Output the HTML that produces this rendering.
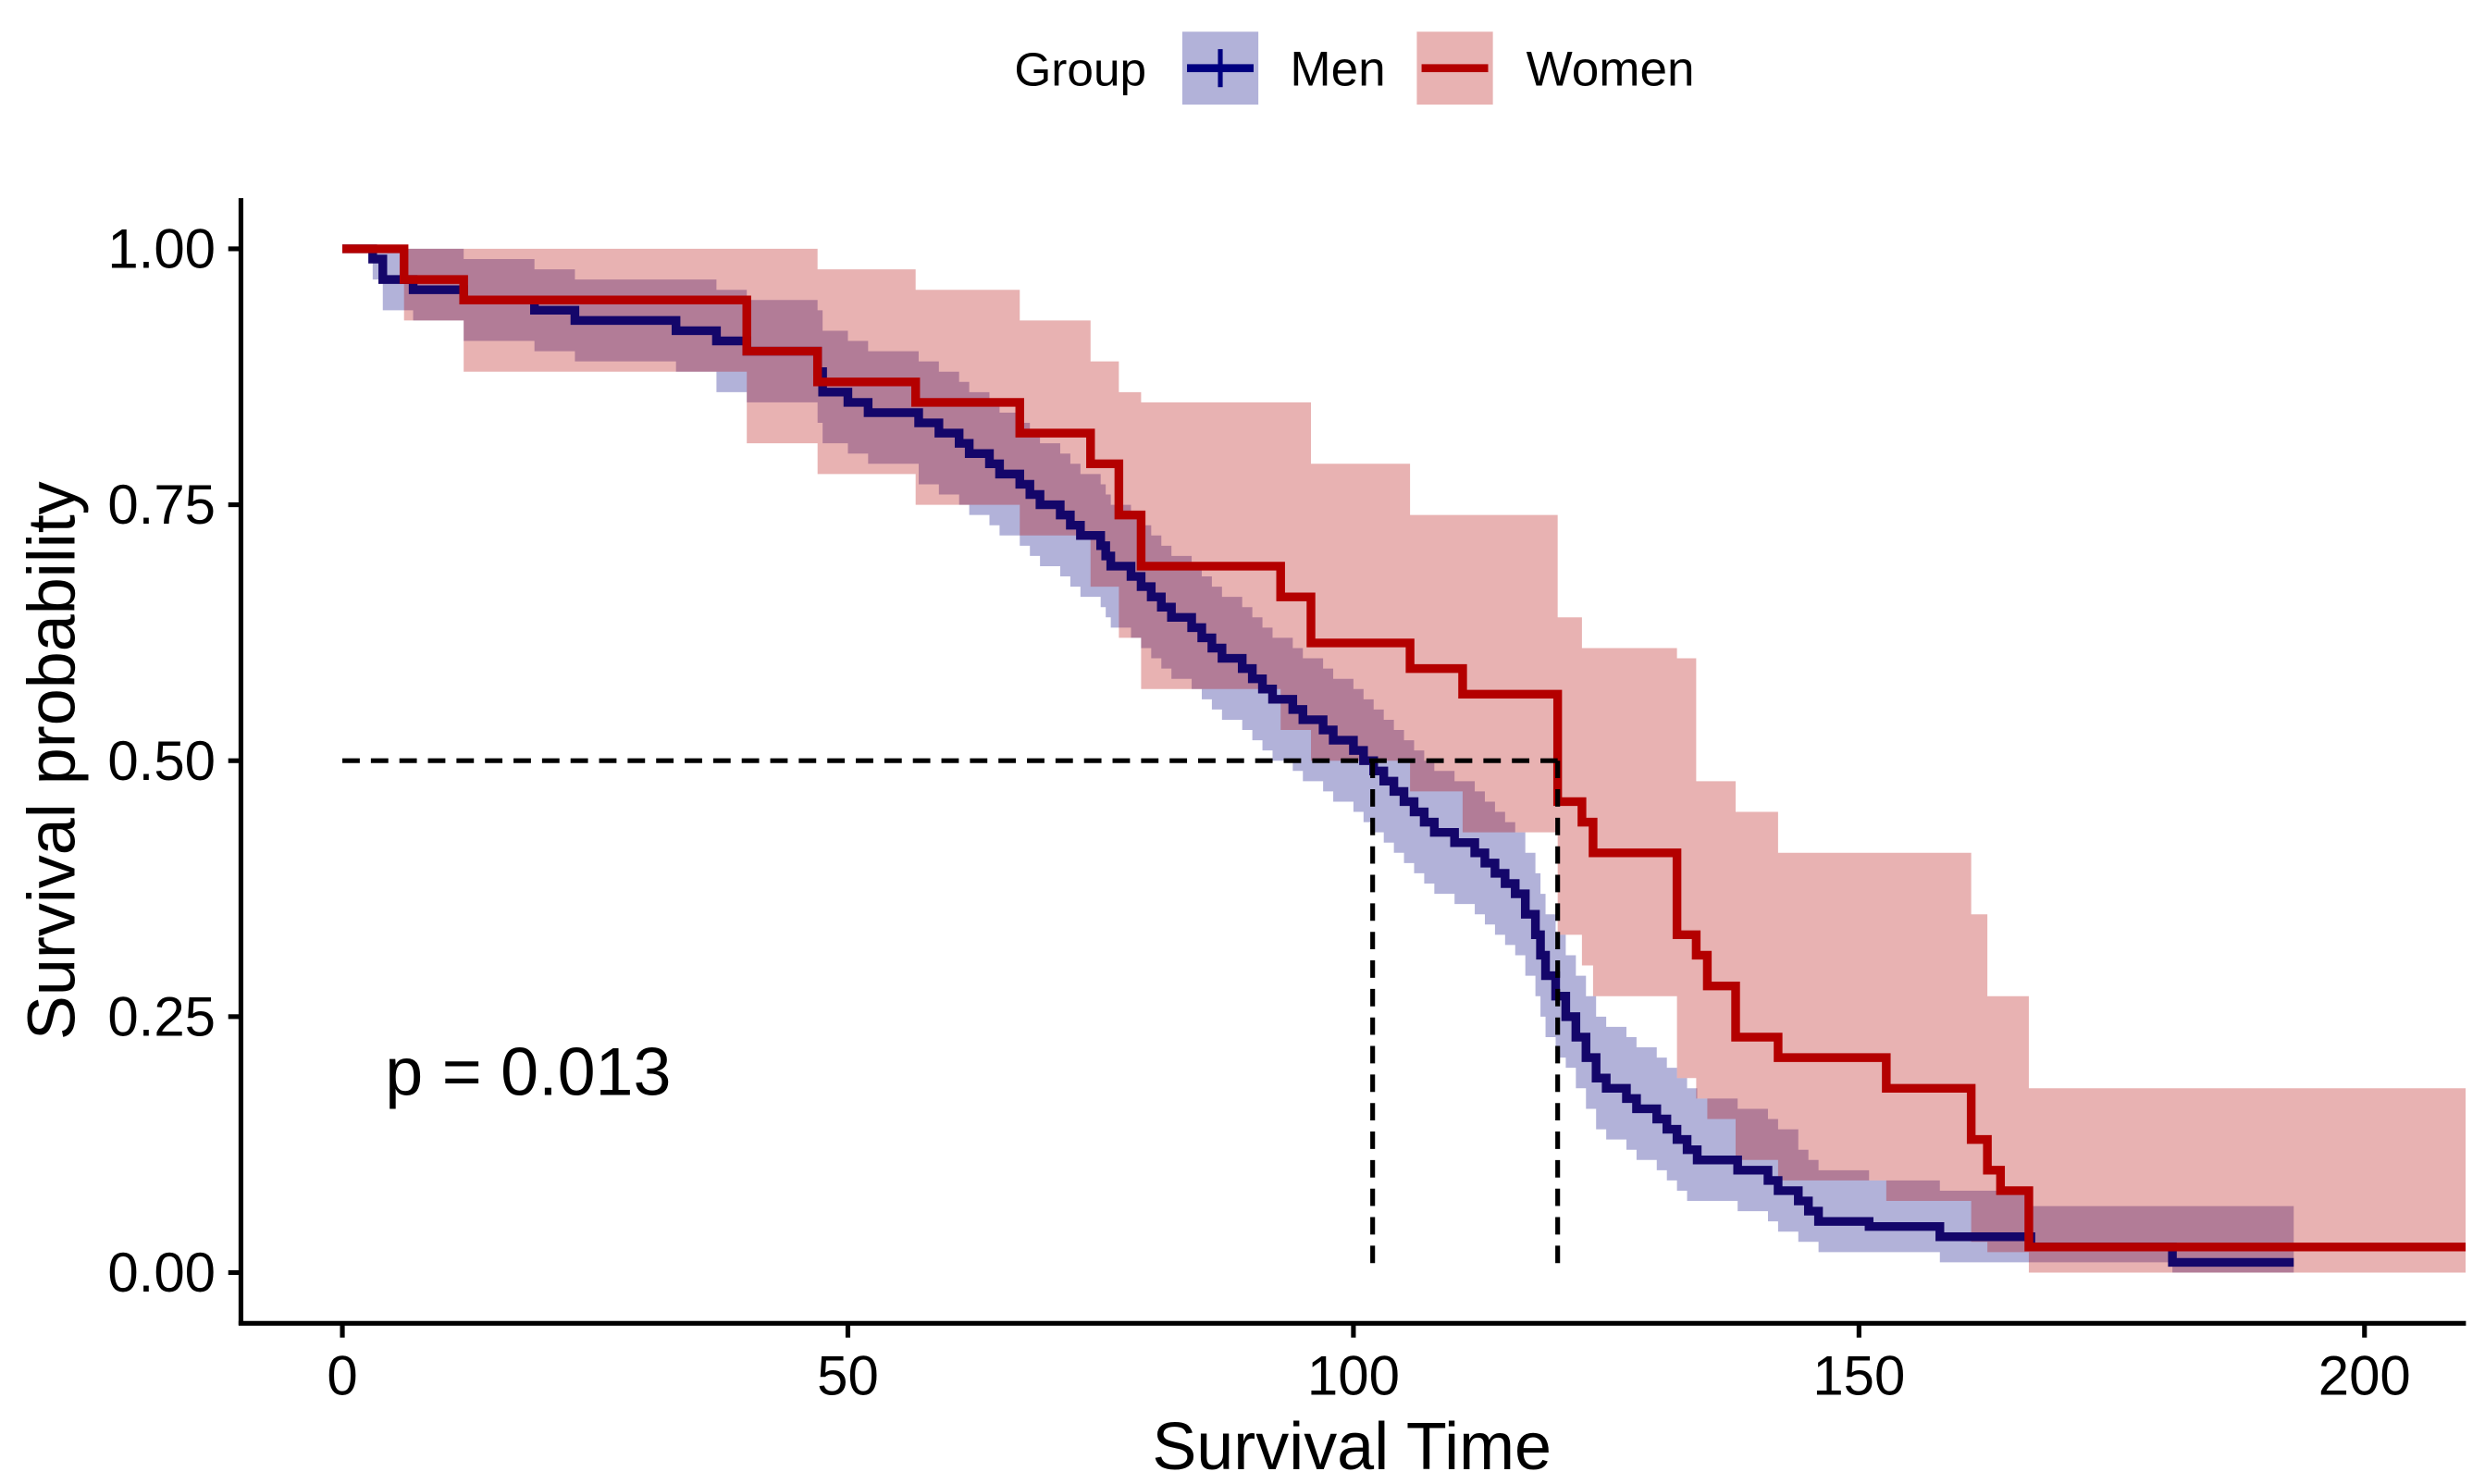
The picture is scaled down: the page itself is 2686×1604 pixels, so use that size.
<!DOCTYPE html>
<html><head><meta charset="utf-8"><style>
html,body{margin:0;padding:0;background:#fff;}
svg{display:block;font-family:"Liberation Sans",Arial,sans-serif;}
</style></head><body>
<svg id="chart" width="2686" height="1604" viewBox="0 0 1568 936.4" xmlns="http://www.w3.org/2000/svg">
<rect x="0" y="0" width="1568" height="936.4" fill="#fff"/>
<g id="bands"></g>
<g id="lines"></g>
<g id="axes"></g>
<text x="243" y="691" font-size="43" fill="#000">p = 0.013</text>
<text x="853" y="927" font-size="42" text-anchor="middle">Survival Time</text>
<text transform="translate(47,480) rotate(-90)" font-size="42" text-anchor="middle">Survival probability</text>
<g>
<text x="640" y="54" font-size="30">Group</text>
<g>
<rect x="746" y="20" width="48" height="46" fill="#000080" fill-opacity="0.3"/>
<line x1="749" y1="43" x2="791" y2="43" stroke="#000080" stroke-width="5"/>
<line x1="770" y1="31" x2="770" y2="55" stroke="#000080" stroke-width="3"/>
<text x="814" y="54" font-size="31">Men</text></g>
<g>
<rect x="894" y="20" width="48" height="46" fill="#b40000" fill-opacity="0.3"/>
<line x1="897" y1="43" x2="939" y2="43" stroke="#b40000" stroke-width="5"/>
<text x="963" y="54" font-size="31">Women</text></g>
</g>
</svg>
<script>
const xTicks=[0,50,100,150,200];
const yTicks=[0,0.25,0.5,0.75,1];
const yTickLabels=["0.00","0.25","0.50","0.75","1.00"];
const menTime=[0,3,4,7,12,19,23,33,37,40,47,47.5,50,52,57,59,61,62,64,65,67,68,69,71,72,73,75,75.5,76,78,79,80,81,82,84,85,86,87,89,90,91,92,94,95,97,98,100,101,102,103,104,105,106,107,108,110,112,113,114,115,116,117,118,118.5,119,120,121,122,123,124,125,127,128,130,131,132,133,134,138,141,142,144,145,146,151,158,167,181];
const menSurv=[1,.99,.97,.96,.95,.94,.93,.92,.91,.90,.88,.86,.85,.84,.83,.82,.81,.80,.79,.78,.77,.76,.75,.74,.73,.72,.71,.70,.69,.68,.67,.66,.65,.64,.63,.62,.61,.60,.59,.58,.57,.56,.55,.54,.53,.52,.51,.50,.49,.48,.47,.46,.45,.44,.43,.42,.41,.40,.39,.38,.37,.35,.33,.31,.29,.27,.25,.23,.21,.19,.18,.17,.16,.15,.14,.13,.12,.11,.10,.09,.08,.07,.06,.05,.045,.035,.025,.01];
const menUpper=[1,1,1,1,.99,.98,.97,.97,.96,.95,.94,.92,.91,.90,.89,.88,.87,.86,.85,.84,.83,.82,.81,.80,.79,.78,.77,.76,.75,.74,.73,.72,.71,.70,.69,.68,.67,.66,.65,.64,.63,.62,.61,.60,.59,.58,.57,.56,.55,.54,.53,.52,.51,.50,.49,.48,.47,.46,.45,.44,.43,.41,.39,.37,.35,.33,.31,.29,.27,.25,.24,.23,.22,.21,.20,.19,.18,.17,.16,.15,.14,.12,.11,.10,.09,.08,.065,.065];
const menLower=[1,.97,.94,.93,.91,.90,.89,.88,.86,.85,.83,.81,.80,.79,.77,.76,.75,.74,.73,.72,.71,.70,.69,.68,.67,.66,.65,.64,.63,.62,.61,.60,.59,.58,.57,.56,.55,.54,.53,.52,.51,.50,.49,.48,.47,.46,.45,.44,.43,.42,.41,.40,.39,.38,.37,.36,.35,.34,.33,.32,.31,.29,.27,.25,.23,.21,.20,.18,.16,.14,.13,.12,.11,.10,.09,.08,.07,.07,.06,.05,.04,.03,.03,.02,.02,.01,.01,0];
const menEnd=193;
const womenTime=[0,6.1,12,40,47,56.7,67,74,76.8,79,92.8,95.8,105.6,110.8,120.2,122.6,123.7,132,133.9,135,137.8,142,152.7,161.1,162.7,164,166.8];
const womenSurv=[1,.97,.95,.90,.87,.85,.82,.79,.74,.69,.66,.615,.59,.565,.46,.44,.41,.33,.31,.28,.23,.21,.18,.13,.10,.08,.025];
const womenUpper=[1,1,1,1,.98,.96,.93,.89,.86,.85,.85,.79,.74,.74,.64,.61,.61,.60,.48,.48,.45,.41,.41,.35,.27,.27,.18];
const womenLower=[1,.93,.88,.81,.78,.75,.72,.67,.62,.57,.53,.50,.47,.43,.33,.30,.27,.19,.17,.15,.11,.09,.07,.03,.02,.02,0];
const womenEnd=210;
const medians=[101.9,120.2];
const NS='http://www.w3.org/2000/svg';
const X=t=>216+t*(1492-216)/200;
const Y=s=>803-s*(803-157);
function mk(tag,attrs,parent){const e=document.createElementNS(NS,tag);for(const k in attrs)e.setAttribute(k,attrs[k]);parent.appendChild(e);return e;}
function stepPath(ts,ss,end){let d='M'+X(ts[0])+','+Y(ss[0]);for(let i=1;i<ts.length;i++){d+='H'+X(ts[i])+'V'+Y(ss[i]);}return d+'H'+X(end);}
function bandPath(ts,up,lo,end){let d='M'+X(ts[0])+','+Y(up[0]);for(let i=1;i<ts.length;i++){d+='H'+X(ts[i])+'V'+Y(up[i]);}d+='H'+X(end)+'V'+Y(lo[lo.length-1]);for(let i=ts.length-1;i>=1;i--){d+='H'+X(ts[i])+'V'+Y(lo[i-1]);}return d+'H'+X(ts[0])+'Z';}
const bands=document.getElementById('bands'),lines=document.getElementById('lines'),axes=document.getElementById('axes');
const bm=mk('path',{d:bandPath(menTime,menUpper,menLower,menEnd),fill:'#000080','fill-opacity':0.3},bands);


const bw=mk('path',{d:bandPath(womenTime,womenUpper,womenLower,womenEnd),fill:'#b40000','fill-opacity':0.3},bands);


const lm=mk('path',{d:stepPath(menTime,menSurv,menEnd),fill:'none',stroke:'#14066a','stroke-width':5.5},lines);


const lw=mk('path',{d:stepPath(womenTime,womenSurv,womenEnd),fill:'none',stroke:'#b40000','stroke-width':5.5},lines);


const hm=mk('line',{x1:X(0),x2:X(medians[1]),y1:Y(0.5),y2:Y(0.5),stroke:'#000','stroke-width':3,'stroke-dasharray':'11,7'},lines);


medians.forEach(m=>{const v=mk('line',{x1:X(m),x2:X(m),y1:Y(0.5),y2:Y(0),stroke:'#000','stroke-width':3,'stroke-dasharray':'11,7'},lines);

});
const ya=mk('line',{x1:152,x2:152,y1:125,y2:836,stroke:'#000','stroke-width':3},axes);


const xa=mk('line',{x1:150.5,x2:1556,y1:835,y2:835,stroke:'#000','stroke-width':3},axes);


yTicks.forEach((v,i)=>{mk('line',{x1:144,x2:152,y1:Y(v),y2:Y(v),stroke:'#000','stroke-width':3},axes);
const t=mk('text',{x:136,y:Y(v)+12,'font-size':35,'text-anchor':'end'},axes);t.textContent=yTickLabels[i];

});
xTicks.forEach(v=>{mk('line',{x1:X(v),x2:X(v),y1:835,y2:844,stroke:'#000','stroke-width':3},axes);
const t=mk('text',{x:X(v),y:880,'font-size':35,'text-anchor':'middle'},axes);t.textContent=v;

});
</script>
</body></html>
